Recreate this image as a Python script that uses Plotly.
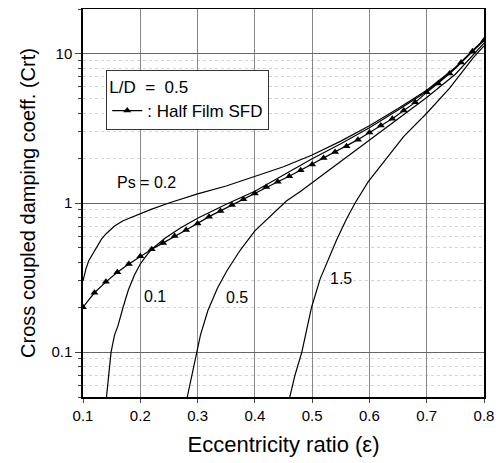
import math
import plotly.graph_objects as go

# Half film SFD (triangles), eccentricity step 0.02
sfd_x = [round(0.1 + 0.02 * i, 2) for i in range(36)]
sfd_y = [0.2, 0.25, 0.296, 0.343, 0.39, 0.44, 0.49, 0.54, 0.60, 0.66, 0.73, 0.81,
         0.885, 0.97, 1.06, 1.16, 1.28, 1.39, 1.51, 1.66, 1.81, 2.0, 2.2, 2.4,
         2.66, 2.97, 3.31, 3.67, 4.17, 4.73, 5.52, 6.34, 7.39, 8.75, 10.4, 12.3]

ps02_x = [0.1, 0.105, 0.11, 0.1175, 0.125, 0.132, 0.14, 0.155, 0.17, 0.196, 0.22, 0.25,
          0.3, 0.35, 0.4, 0.45, 0.5, 0.55, 0.6, 0.65, 0.7, 0.75, 0.8]
ps02_y = [0.30, 0.36, 0.41, 0.46, 0.52, 0.57, 0.62, 0.70, 0.76, 0.84, 0.91, 1.0,
          1.15, 1.30, 1.50, 1.75, 2.1, 2.6, 3.3, 4.3, 5.7, 8.1, 12.5]

ps01_x = [0.141, 0.149, 0.155, 0.161, 0.17, 0.179, 0.19, 0.2, 0.21, 0.22, 0.243, 0.27,
          0.3, 0.35, 0.4, 0.45, 0.5, 0.55, 0.6, 0.65, 0.7, 0.75, 0.8]
ps01_y = [0.05, 0.1, 0.13, 0.15, 0.2, 0.26, 0.33, 0.39, 0.44, 0.49, 0.58, 0.68,
          0.79, 0.98, 1.2, 1.55, 1.98, 2.5, 3.2, 4.2, 5.6, 8.0, 12.4]

ps05_x = [0.282, 0.29, 0.298, 0.305, 0.318, 0.335, 0.351, 0.374, 0.40, 0.43, 0.455,
          0.48, 0.514, 0.55, 0.6, 0.65, 0.7, 0.75, 0.8]
ps05_y = [0.05, 0.07, 0.1, 0.13, 0.19, 0.27, 0.35, 0.48, 0.65, 0.84, 1.03,
          1.2, 1.5, 1.9, 2.65, 3.7, 5.1, 7.3, 11.8]

ps15_x = [0.461, 0.47, 0.482, 0.49, 0.499, 0.514, 0.53, 0.543, 0.56, 0.575, 0.598,
          0.63, 0.66, 0.7, 0.74, 0.781, 0.8]
ps15_y = [0.05, 0.07, 0.1, 0.14, 0.2, 0.31, 0.44, 0.57, 0.78, 1.0, 1.39,
          2.0, 2.8, 4.0, 5.9, 9.4, 11.3]

curve_labels = ["Ps = 0.2", "0.1", "0.5", "1.5"]
label_x = [0.21, 0.226, 0.369, 0.55]
label_y = [1.38, 0.236, 0.233, 0.311]

y_major = [0.1, 1, 10]
y_minor = [0.05, 0.06, 0.07, 0.08, 0.09, 0.2, 0.3, 0.4, 0.5, 0.6, 0.7, 0.8, 0.9,
           2, 3, 4, 5, 6, 7, 8, 9, 20]

FONT = "Liberation Sans, Arial, sans-serif"

fig = go.Figure()
for xs, ys in [(ps02_x, ps02_y), (ps01_x, ps01_y), (ps05_x, ps05_y), (ps15_x, ps15_y)]:
    fig.add_trace(go.Scatter(x=xs, y=ys, mode="lines", line=dict(color="black", width=1.2),
                             showlegend=False, hoverinfo="skip"))

fig.add_trace(go.Scatter(x=sfd_x, y=sfd_y, mode="lines+markers", name=": Half Film SFD",
                         line=dict(color="black", width=1.2),
                         marker=dict(symbol="triangle-up", size=7, color="black")))

# annotations on a log axis take log10 positions
for t, lx, ly in zip(curve_labels, label_x, label_y):
    fig.add_annotation(x=lx, y=math.log10(ly), text=t, showarrow=False,
                       font=dict(size=16, color="black", family=FONT))

# page body adds an 8px offset, so the figure is drawn 8px smaller
fig.update_layout(
    width=496, height=455,
    margin=dict(l=75, r=20, t=1, b=66),
    paper_bgcolor="white", plot_bgcolor="white",
    font=dict(family=FONT, color="black", size=15),
    legend=dict(x=0.058, y=0.843, xanchor="left", yanchor="top",
                bordercolor="#333", borderwidth=1, bgcolor="white",
                title=dict(text="L/D\u00a0\u00a0=\u00a0\u00a00.5", font=dict(size=17)),
                font=dict(size=17), tracegroupgap=0),
    xaxis=dict(range=[0.1, 0.8], dtick=0.1, tickformat=".1f", automargin=False,
               showgrid=True, gridcolor="#888", gridwidth=1,
               showline=True, linecolor="black", linewidth=1.5, mirror=True,
               ticks="outside", ticklen=4, zeroline=False,
               title=dict(text="Eccentricity ratio (ε)", font=dict(size=22), standoff=14)),
    yaxis=dict(type="log", range=[-1.30103, 1.30103], tickvals=y_major,
               ticktext=["0.1", "1", "10"], automargin=False,
               showgrid=True, gridcolor="#666", gridwidth=1,
               showline=True, linecolor="black", linewidth=1.5, mirror=True,
               ticks="outside", ticklen=6,
               minor=dict(tickvals=y_minor, ticks="outside", ticklen=3,
                          showgrid=True, gridcolor="#d4d4d4", griddash="dot"),
               title=dict(text="Cross coupled damping coeff. (Crt)", font=dict(size=20),
                          standoff=10)),
)

fig.write_html("out.html")
